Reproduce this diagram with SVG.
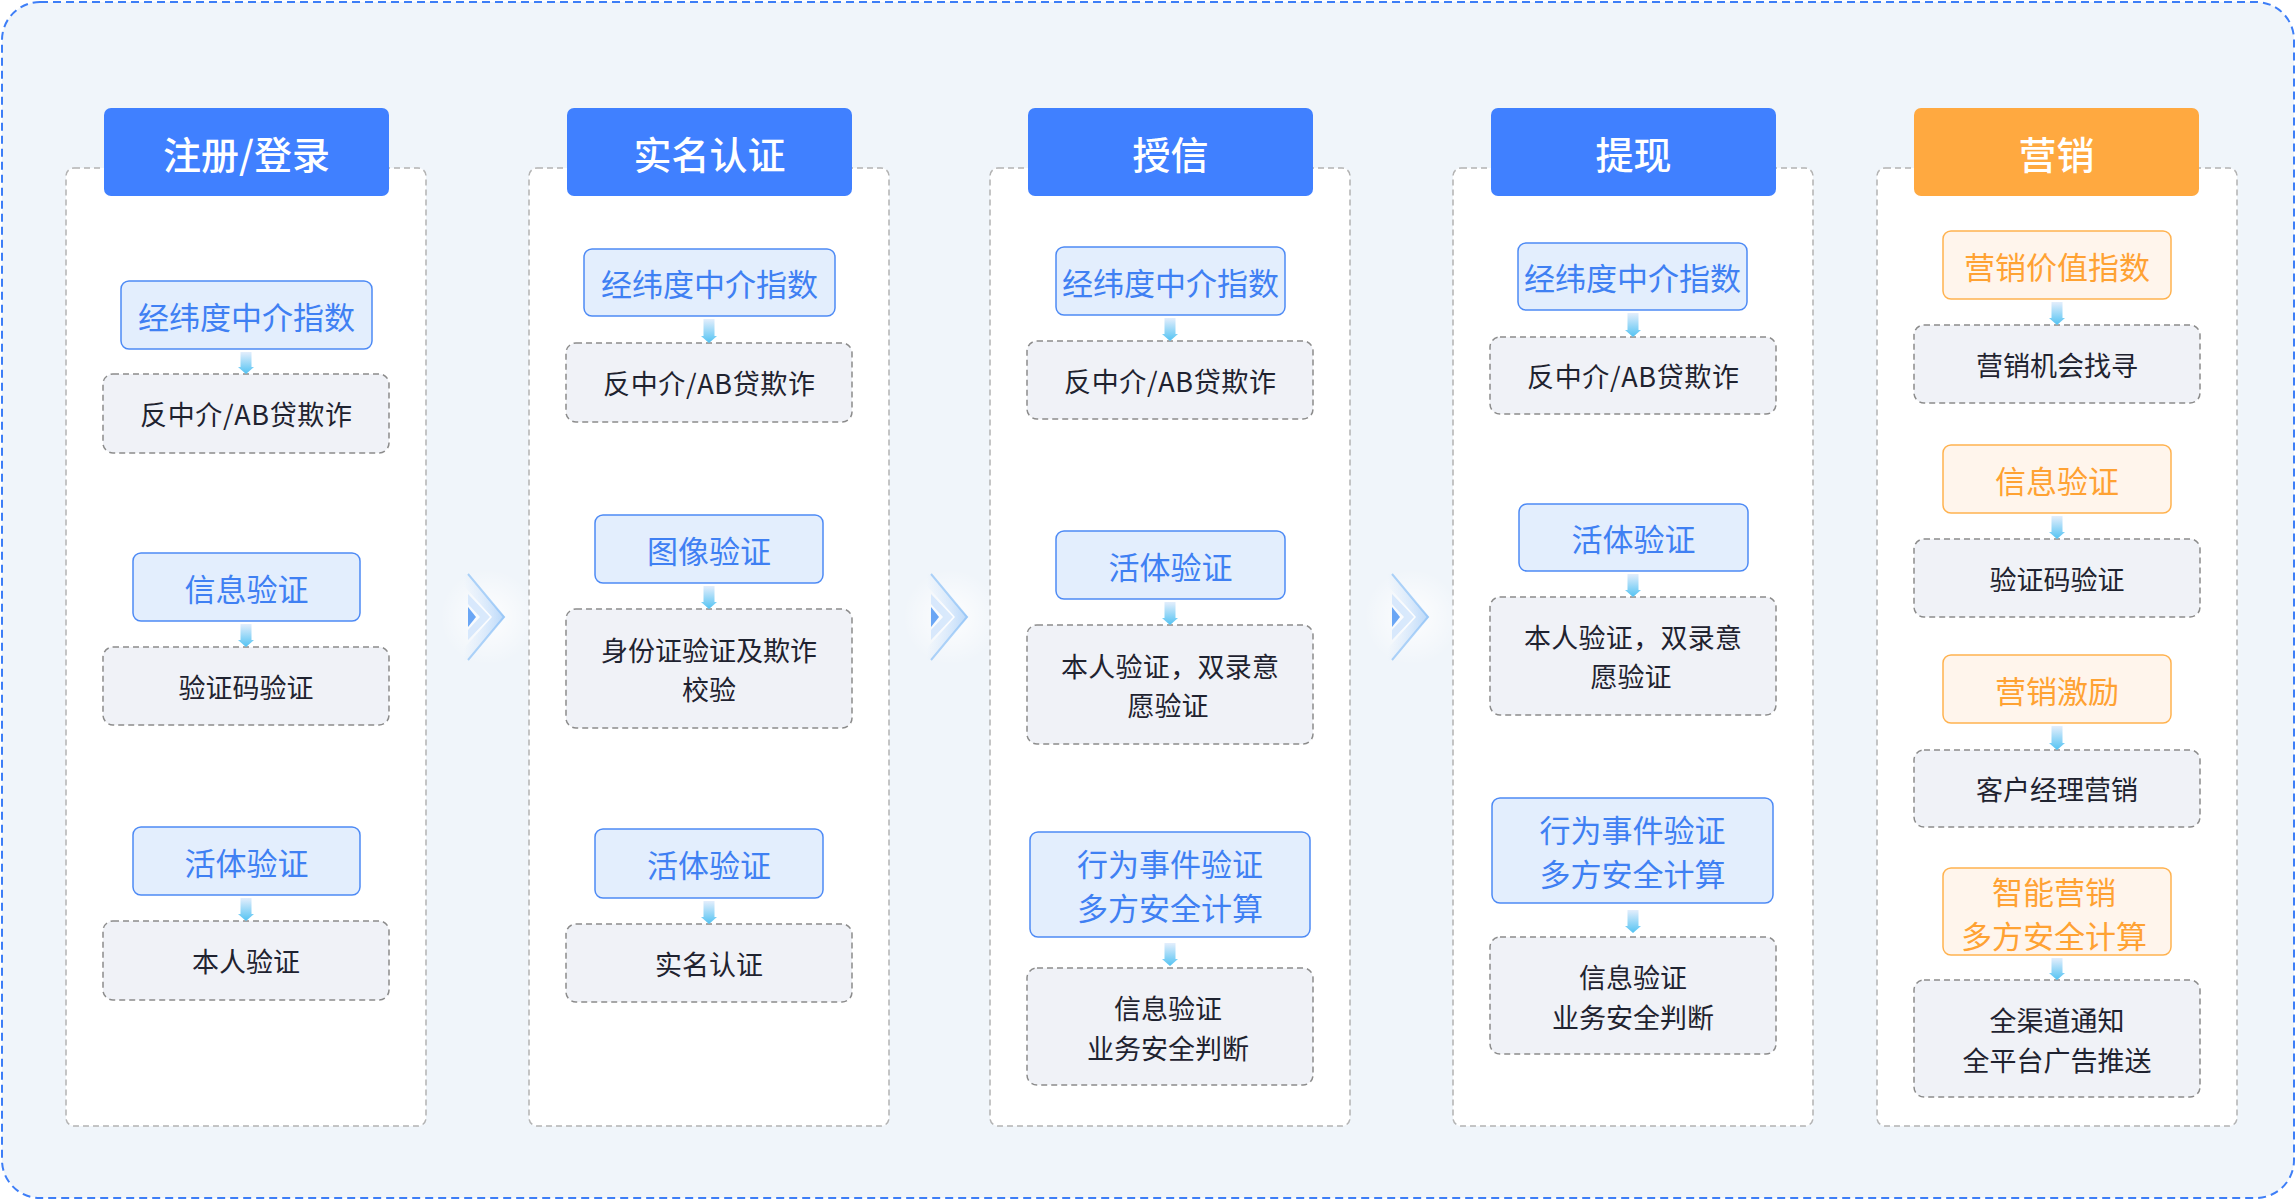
<svg xmlns="http://www.w3.org/2000/svg" xmlns:xlink="http://www.w3.org/1999/xlink" width="2296" height="1200" viewBox="0 0 2296 1200">
<style>
text{font-family:"Noto Sans CJK SC","Noto Sans",sans-serif;text-anchor:middle;dominant-baseline:central}
.panel{fill:#ffffff;stroke:#b3b3b3;stroke-width:1.5;stroke-dasharray:6 4}
.hdr{fill:#4080ff}
.hdr-o{fill:#ffa940}
.ht{fill:#ffffff;font-size:38px;font-weight:500}
.nb rect{fill:#e3eefd;stroke:#4d8af5;stroke-width:1.5}
.nb text{fill:#3f80f3;font-size:31px}
.no rect{fill:#fff5ec;stroke:#ffb24f;stroke-width:1.5}
.no text{fill:#ffa233;font-size:31px}
.ng rect{fill:#f0f2f7;stroke:#8c8c8c;stroke-width:1.5;stroke-dasharray:6 4}
.ng text{fill:#1f2330;font-size:27px}
.arr{fill:url(#ag)}
</style>
<defs>
<linearGradient id="ag" x1="0" y1="0" x2="0" y2="1">
<stop offset="0" stop-color="#e4eefc"/>
<stop offset="1" stop-color="#52c3f3"/>
</linearGradient>
<radialGradient id="glow" cx="0.5" cy="0.5" r="0.5">
<stop offset="0" stop-color="#ffffff" stop-opacity="0.9"/>
<stop offset="1" stop-color="#ffffff" stop-opacity="0"/>
</radialGradient>
<linearGradient id="cg" x1="0" y1="0" x2="1" y2="0">
<stop offset="0" stop-color="#a9cdf8" stop-opacity="0"/>
<stop offset="1" stop-color="#8ec0f6" stop-opacity="0.6"/>
</linearGradient>
<g id="chev">
<circle cx="24" cy="617" r="48" fill="url(#glow)"/>
<polygon points="0,572 41,617 0,662 0,648 28,617 0,586" fill="url(#cg)"/>
<polyline points="4,574 40,617 4,660" fill="none" stroke="#8cc0f6" stroke-width="2" stroke-opacity="0.7"/>
<polygon points="4,594 26,617 4,640 4,630 16,617 4,604" fill="#cfe4fb" opacity="0.8"/>
<polygon points="4,607 12,617 4,627" fill="#6aa6f5"/>
</g>
</defs>

<rect x="2" y="2" width="2292" height="1196" rx="38" fill="#f0f5fa" stroke="#3d7ef7" stroke-width="2" stroke-dasharray="8 5"/>

<g id="panels">
<rect class="panel" x="66" y="168" width="360" height="958" rx="8"/>
<rect class="panel" x="529" y="168" width="360" height="958" rx="8"/>
<rect class="panel" x="990" y="168" width="360" height="958" rx="8"/>
<rect class="panel" x="1453" y="168" width="360" height="958" rx="8"/>
<rect class="panel" x="1877" y="168" width="360" height="958" rx="8"/>
</g>

<g id="h1"><rect class="hdr" x="104" y="108" width="285" height="88" rx="7"/><text class="ht" x="246.5" y="152">注册/登录</text></g>
<g id="h2"><rect class="hdr" x="567" y="108" width="285" height="88" rx="7"/><text class="ht" x="709.5" y="152">实名认证</text></g>
<g id="h3"><rect class="hdr" x="1028" y="108" width="285" height="88" rx="7"/><text class="ht" x="1170.5" y="152">授信</text></g>
<g id="h4"><rect class="hdr" x="1491" y="108" width="285" height="88" rx="7"/><text class="ht" x="1633.5" y="152">提现</text></g>
<g id="h5"><rect class="hdr-o" x="1914" y="108" width="285" height="88" rx="7"/><text class="ht" x="2056.5" y="152">营销</text></g>

<g id="chevrons">
<use xlink:href="#chev" x="464" y="0"/>
<use xlink:href="#chev" x="927" y="0"/>
<use xlink:href="#chev" x="1388" y="0"/>
</g>

<!-- column 1 -->
<g id="c1n1" class="nb"><rect x="121" y="281" width="251" height="68" rx="8"/><text x="246.5" y="315">经纬度中介指数</text></g>
<g id="c1n2" class="ng"><rect x="103" y="374" width="286" height="79" rx="10"/><text x="140" y="413.5" style="text-anchor:start" textLength="212" lengthAdjust="spacing">反中介/AB贷欺诈</text></g>
<g id="c1n3" class="nb"><rect x="133" y="553" width="227" height="68" rx="8"/><text x="246.5" y="587">信息验证</text></g>
<g id="c1n4" class="ng"><rect x="103" y="647" width="286" height="78" rx="10"/><text x="246" y="686">验证码验证</text></g>
<g id="c1n5" class="nb"><rect x="133" y="827" width="227" height="68" rx="8"/><text x="246.5" y="861">活体验证</text></g>
<g id="c1n6" class="ng"><rect x="103" y="921" width="286" height="79" rx="10"/><text x="246" y="960.5">本人验证</text></g>

<!-- column 2 -->
<g id="c2n1" class="nb"><rect x="584" y="249" width="251" height="67" rx="8"/><text x="709.5" y="282.5">经纬度中介指数</text></g>
<g id="c2n2" class="ng"><rect x="566" y="343" width="286" height="79" rx="10"/><text x="603" y="382.5" style="text-anchor:start" textLength="212" lengthAdjust="spacing">反中介/AB贷欺诈</text></g>
<g id="c2n3" class="nb"><rect x="595" y="515" width="228" height="68" rx="8"/><text x="709" y="549">图像验证</text></g>
<g id="c2n4" class="ng"><rect x="566" y="609" width="286" height="119" rx="10"/><text x="709" y="649">身份证验证及欺诈</text><text x="709" y="688">校验</text></g>
<g id="c2n5" class="nb"><rect x="595" y="829" width="228" height="69" rx="8"/><text x="709" y="863.5">活体验证</text></g>
<g id="c2n6" class="ng"><rect x="566" y="924" width="286" height="78" rx="10"/><text x="709" y="963">实名认证</text></g>

<!-- column 3 -->
<g id="c3n1" class="nb"><rect x="1056" y="247" width="229" height="68" rx="8"/><text x="1170.5" y="281">经纬度中介指数</text></g>
<g id="c3n2" class="ng"><rect x="1027" y="341" width="286" height="78" rx="10"/><text x="1064" y="380" style="text-anchor:start" textLength="212" lengthAdjust="spacing">反中介/AB贷欺诈</text></g>
<g id="c3n3" class="nb"><rect x="1056" y="531" width="229" height="68" rx="8"/><text x="1170.5" y="565">活体验证</text></g>
<g id="c3n4" class="ng"><rect x="1027" y="625" width="286" height="119" rx="10"/><text x="1061" y="665" style="text-anchor:start" textLength="218" lengthAdjust="spacing">本人验证，双录意</text><text x="1168" y="704">愿验证</text></g>
<g id="c3n5" class="nb"><rect x="1030" y="832" width="280" height="105" rx="8"/><text x="1170" y="862">行为事件验证</text><text x="1170" y="906">多方安全计算</text></g>
<g id="c3n6" class="ng"><rect x="1027" y="968" width="286" height="117" rx="10"/><text x="1168" y="1007">信息验证</text><text x="1168" y="1047">业务安全判断</text></g>

<!-- column 4 -->
<g id="c4n1" class="nb"><rect x="1518" y="243" width="229" height="67" rx="8"/><text x="1632.5" y="276.5">经纬度中介指数</text></g>
<g id="c4n2" class="ng"><rect x="1490" y="337" width="286" height="77" rx="10"/><text x="1527" y="375.5" style="text-anchor:start" textLength="212" lengthAdjust="spacing">反中介/AB贷欺诈</text></g>
<g id="c4n3" class="nb"><rect x="1519" y="504" width="229" height="67" rx="8"/><text x="1633.5" y="537.5">活体验证</text></g>
<g id="c4n4" class="ng"><rect x="1490" y="597" width="286" height="118" rx="10"/><text x="1524" y="636.5" style="text-anchor:start" textLength="218" lengthAdjust="spacing">本人验证，双录意</text><text x="1631" y="675.5">愿验证</text></g>
<g id="c4n5" class="nb"><rect x="1492" y="798" width="281" height="105" rx="8"/><text x="1632.5" y="828">行为事件验证</text><text x="1632.5" y="872">多方安全计算</text></g>
<g id="c4n6" class="ng"><rect x="1490" y="937" width="286" height="117" rx="10"/><text x="1633" y="976">信息验证</text><text x="1633" y="1016">业务安全判断</text></g>

<!-- column 5 -->
<g id="c5n1" class="no"><rect x="1943" y="231" width="228" height="68" rx="8"/><text x="2057" y="265">营销价值指数</text></g>
<g id="c5n2" class="ng"><rect x="1914" y="325" width="286" height="78" rx="10"/><text x="2057" y="364">营销机会找寻</text></g>
<g id="c5n3" class="no"><rect x="1943" y="445" width="228" height="68" rx="8"/><text x="2057" y="479">信息验证</text></g>
<g id="c5n4" class="ng"><rect x="1914" y="539" width="286" height="78" rx="10"/><text x="2057" y="578">验证码验证</text></g>
<g id="c5n5" class="no"><rect x="1943" y="655" width="228" height="68" rx="8"/><text x="2057" y="689">营销激励</text></g>
<g id="c5n6" class="ng"><rect x="1914" y="750" width="286" height="77" rx="10"/><text x="2057" y="788.5">客户经理营销</text></g>
<g id="c5n7" class="no"><rect x="1943" y="868" width="228" height="87" rx="8"/><text x="2054" y="890">智能营销</text><text x="2054" y="934">多方安全计算</text></g>
<g id="c5n8" class="ng"><rect x="1914" y="980" width="286" height="117" rx="10"/><text x="2057" y="1019">全渠道通知</text><text x="2057" y="1059">全平台广告推送</text></g>

<g id="connectors">
<path class="arr" d="M240.5,352 H251.5 V367 H254 L246,374 L238,367 H240.5 Z"/>
<path class="arr" d="M240.5,624 H251.5 V640 H254 L246,647 L238,640 H240.5 Z"/>
<path class="arr" d="M240.5,898 H251.5 V914 H254 L246,921 L238,914 H240.5 Z"/>
<path class="arr" d="M703.5,319 H714.5 V336 H717 L709,343 L701,336 H703.5 Z"/>
<path class="arr" d="M703.5,586 H714.5 V602 H717 L709,609 L701,602 H703.5 Z"/>
<path class="arr" d="M703.5,901 H714.5 V917 H717 L709,924 L701,917 H703.5 Z"/>
<path class="arr" d="M1164.5,318 H1175.5 V334 H1178 L1170,341 L1162,334 H1164.5 Z"/>
<path class="arr" d="M1164.5,602 H1175.5 V618 H1178 L1170,625 L1162,618 H1164.5 Z"/>
<path class="arr" d="M1164.5,943 H1175.5 V959 H1178 L1170,966 L1162,959 H1164.5 Z"/>
<path class="arr" d="M1627.5,313 H1638.5 V330 H1641 L1633,337 L1625,330 H1627.5 Z"/>
<path class="arr" d="M1627.5,574 H1638.5 V590 H1641 L1633,597 L1625,590 H1627.5 Z"/>
<path class="arr" d="M1627.5,910 H1638.5 V926 H1641 L1633,933 L1625,926 H1627.5 Z"/>
<path class="arr" d="M2051.5,302 H2062.5 V318 H2065 L2057,325 L2049,318 H2051.5 Z"/>
<path class="arr" d="M2051.5,516 H2062.5 V532 H2065 L2057,539 L2049,532 H2051.5 Z"/>
<path class="arr" d="M2051.5,726 H2062.5 V743 H2065 L2057,750 L2049,743 H2051.5 Z"/>
<path class="arr" d="M2051.5,958 H2062.5 V973 H2065 L2057,980 L2049,973 H2051.5 Z"/>
</g>
</svg>
